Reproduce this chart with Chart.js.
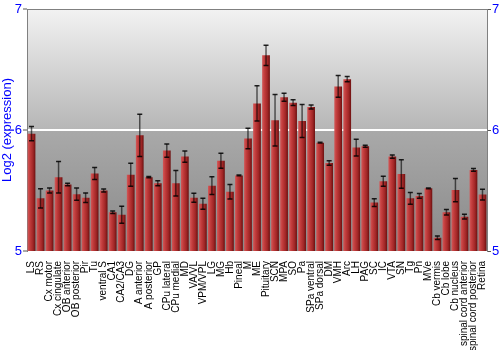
<!DOCTYPE html>
<html>
<head>
<meta charset="utf-8">
<script src="https://cdn.jsdelivr.net/npm/chart.js@4"></script>
<style>
  html, body { margin: 0; padding: 0; background: #fff; }
  #wrap { width: 500px; height: 350px; }
</style>
</head>
<body>
<div id="wrap"><canvas id="exprChart"></canvas></div>
<script>
// --- Chart Data ---
const regions = ['LS', 'RS', 'Cx motor', 'Cx cingulate', 'OB anterior', 'OB posterior', 'Pir', 'Tu', 'ventral S', 'CA1',
  'CA2/CA3', 'DG', 'A anterior', 'A posterior', 'GP', 'CPu lateral', 'CPu medial', 'MD', 'VA/VL', 'VPM/VPL',
  'LG', 'MG', 'Hb', 'Pineal', 'M', 'ME', 'Pituitary', 'SCN', 'MPA', 'SO',
  'Pa', 'SPa ventral', 'SPa dorsal', 'DM', 'VMH', 'Arc', 'LH', 'PAG', 'SC', 'IC',
  'VTA', 'SN', 'Tg', 'Pn', 'MVe', 'Cb vermis', 'Cb lobe', 'Cb nucleus', 'spinal cord anterior', 'spinal cord posterior',
  'Retina'];

const expression = [5.97, 5.435, 5.50, 5.61, 5.55, 5.47, 5.44, 5.64, 5.50, 5.32,
  5.30, 5.63, 5.956, 5.61, 5.56, 5.83, 5.56, 5.78, 5.44, 5.39,
  5.54, 5.746, 5.49, 5.625, 5.93, 6.22, 6.617, 6.08, 6.27, 6.226,
  6.074, 6.19, 5.895, 5.727, 6.36, 6.42, 5.855, 5.865, 5.40, 5.576,
  5.78, 5.636, 5.435, 5.455, 5.518, 5.11, 5.32, 5.504, 5.284, 5.67,
  5.466];

const errors = [0.058, 0.08, 0.02, 0.13, 0.01, 0.05, 0.04, 0.05, 0.012, 0.01,
  0.07, 0.095, 0.175, 0.005, 0.02, 0.055, 0.105, 0.047, 0.037, 0.045,
  0.073, 0.062, 0.06, 0.003, 0.084, 0.146, 0.083, 0.213, 0.033, 0.023,
  0.136, 0.017, 0.003, 0.018, 0.09, 0.022, 0.069, 0.008, 0.032, 0.041,
  0.014, 0.118, 0.048, 0.02, 0.003, 0.015, 0.022, 0.096, 0.019, 0.011,
  0.045];

const yTicks = [5, 6, 7];

// --- Plugins ---
// gray gradient behind the plot + top border line
const plotBackground = {
  id: 'plotBackground',
  beforeDraw(chart) {
    const { ctx, chartArea: a } = chart;
    const g = ctx.createLinearGradient(0, a.top, 0, a.bottom);
    g.addColorStop(0, '#f2f2f2');
    g.addColorStop(0.5, '#b6b6b6');
    g.addColorStop(0.505, '#a9a9a9');
    g.addColorStop(1, '#898989');
    ctx.save();
    ctx.fillStyle = g;
    ctx.fillRect(a.left, a.top, a.right - a.left, a.bottom - a.top);
    ctx.restore();
  },
  afterDraw(chart) {
    const { ctx, chartArea: a } = chart;
    ctx.save();
    ctx.strokeStyle = '#808080';
    ctx.lineWidth = 1;
    ctx.beginPath();
    ctx.moveTo(a.left, a.top + 0.5);
    ctx.lineTo(a.right, a.top + 0.5);
    ctx.stroke();
    ctx.restore();
  }
};

// error bars drawn from the errors array through the y scale
const errorBars = {
  id: 'errorBars',
  afterDatasetsDraw(chart) {
    const { ctx } = chart;
    const y = chart.scales.y;
    const meta = chart.getDatasetMeta(0);
    ctx.save();
    ctx.lineWidth = 1.5;
    meta.data.forEach((bar, i) => {
      const top = y.getPixelForValue(expression[i] + errors[i]);
      const bot = y.getPixelForValue(expression[i] - errors[i]);
      ctx.strokeStyle = 'rgba(0,0,0,0.6)';
      ctx.beginPath();
      ctx.moveTo(bar.x, top);
      ctx.lineTo(bar.x, bot);
      ctx.stroke();
      ctx.strokeStyle = 'rgba(0,0,0,0.85)';
      ctx.beginPath();
      ctx.moveTo(bar.x - 2.5, top);
      ctx.lineTo(bar.x + 2.5, top);
      ctx.moveTo(bar.x - 2.5, bot);
      ctx.lineTo(bar.x + 2.5, bot);
      ctx.stroke();
    });
    ctx.restore();
  }
};

// horizontal shading for each bar
function barFill(c) {
  const chart = c.chart;
  const xs = chart.scales.x;
  if (!xs || c.dataIndex === undefined || !chart.chartArea) return '#b03030';
  const cx = xs.getPixelForValue(c.dataIndex);
  const half = (xs.width / regions.length) * 0.86 / 2;
  const g = chart.ctx.createLinearGradient(cx - half, 0, cx + half, 0);
  g.addColorStop(0, '#d25858');
  g.addColorStop(0.3, '#c23c3c');
  g.addColorStop(0.7, '#a02626');
  g.addColorStop(1, '#6c1010');
  return g;
}

const blue = '#0000ff';

const exprCtx = document.getElementById('exprChart').getContext('2d');
const exprChart = new Chart(exprCtx, {
  type: 'bar',
  data: {
    labels: regions,
    datasets: [{
      label: 'Log2 (expression)',
      data: expression,
      backgroundColor: barFill,
      borderWidth: 0,
      categoryPercentage: 1,
      barPercentage: 0.86
    }]
  },
  options: {
    responsive: true,
    maintainAspectRatio: false,
    animation: false,
    layout: { padding: { top: 9, right: 0, left: 0, bottom: 0 } },
    plugins: {
      legend: { display: false },
      title: { display: false },
      tooltip: { enabled: false }
    },
    scales: {
      x: {
        grid: { display: false },
        border: { display: false },
        ticks: {
          autoSkip: false,
          minRotation: 90,
          maxRotation: 90,
          padding: 2,
          color: '#000',
          font: { family: 'Liberation Sans', size: 10 }
        },
        afterFit(scale) { scale.height = 99; }
      },
      y: {
        position: 'left',
        min: 5,
        max: 7,
        afterBuildTicks(scale) { scale.ticks = yTicks.map(v => ({ value: v })); },
        grid: {
          color: (c) => (c.tick && c.tick.value === 6 ? '#ffffff' : 'rgba(0,0,0,0)'),
          lineWidth: 2,
          tickColor: '#555',
          tickLength: 4,
          tickWidth: 1
        },
        border: { display: true, color: '#808080', width: 1 },
        ticks: {
          padding: 1,
          color: blue,
          font: { family: 'Liberation Sans', size: 13 }
        },
        title: {
          display: true,
          text: 'Log2 (expression)',
          color: blue,
          padding: { top: 0, bottom: 0 },
          font: { family: 'Liberation Sans', size: 13 }
        },
        afterFit(scale) { scale.width = 27; }
      },
      y2: {
        position: 'right',
        min: 5,
        max: 7,
        afterBuildTicks(scale) { scale.ticks = yTicks.map(v => ({ value: v })); },
        grid: {
          drawOnChartArea: false,
          color: 'rgba(0,0,0,0)',
          tickColor: '#555',
          tickLength: 4,
          tickWidth: 1
        },
        border: { display: true, color: '#808080', width: 1 },
        ticks: {
          padding: 1,
          color: blue,
          font: { family: 'Liberation Sans', size: 13 }
        },
        afterFit(scale) { scale.width = 13; }
      }
    }
  },
  plugins: [plotBackground, errorBars]
});
</script>
</body>
</html>
